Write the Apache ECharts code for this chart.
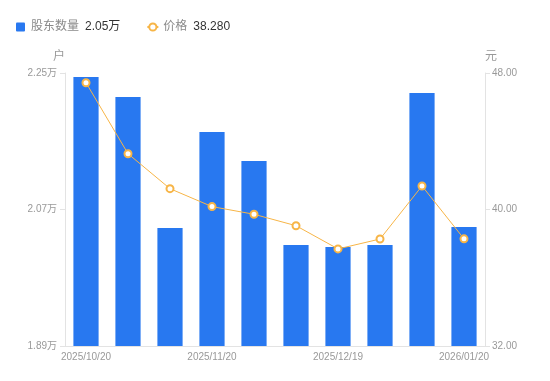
<!DOCTYPE html>
<html>
<head>
<meta charset="utf-8">
<script src="https://cdn.jsdelivr.net/npm/echarts@6/dist/echarts.min.js"></script>
<style>html,body{margin:0;padding:0;background:#fff}#c{width:550px;height:381px}</style>
</head>
<body>
<div id="c"></div>
<script>
var categories = ['2025/10/20','2025/10/31','2025/11/10','2025/11/20','2025/11/28','2025/12/10','2025/12/19','2025/12/31','2026/01/09','2026/01/20'];
var holders = [22447, 22183, 20456, 21722, 21339, 20231, 20205, 20231, 22236, 20469];
var prices = [47.43, 43.27, 41.22, 40.17, 39.72, 39.05, 37.69, 38.27, 41.38, 38.28];
var leftTicks = [18900, 20700, 22500];
var rightMin = 32, rightMax = 48, rightInterval = 8;

var FONT = '"Liberation Sans", "Noto Sans CJK SC", sans-serif';
var chart = echarts.init(document.getElementById('c'));
var lastHolder = (holders[holders.length-1]/10000).toFixed(2) + '万';
var lastPrice = prices[prices.length-1].toFixed(3);

chart.setOption({
  animation: false,
  textStyle: {fontFamily: FONT},
  legend: {
    left: 11, top: 16,
    itemWidth: 11, itemHeight: 9, itemGap: 26,
    data: [
      {name: '股东数量', icon: 'path://M1,0h7a1,1 0 0 1 1,1v7a1,1 0 0 1 -1,1h-7a1,1 0 0 1 -1,-1v-7a1,1 0 0 1 1,-1z'},
      {name: '价格'}
    ],
    formatter: function (n) {
      return '{n|' + n + '}{v|' + (n === '股东数量' ? lastHolder : lastPrice) + '}';
    },
    textStyle: {
      fontFamily: FONT,
      rich: {
        n: {color: '#8a8a8a', fontSize: 12, fontFamily: FONT},
        v: {color: '#333', fontSize: 12, fontFamily: FONT, padding: [0, 0, 0, 6]}
      }
    }
  },
  grid: {left: 65, right: 65, top: 73, bottom: 35},
  xAxis: {
    type: 'category',
    data: categories,
    axisLine: {lineStyle: {color: '#e3e3e3'}},
    axisTick: {show: false},
    axisLabel: {interval: 2, color: '#999', fontSize: 10, margin: 6, fontFamily: FONT}
  },
  yAxis: [
    {
      type: 'value',
      name: '户',
      nameGap: 10,
      nameTextStyle: {color: '#999', fontSize: 12, align: 'right', fontFamily: FONT},
      min: leftTicks[0], max: leftTicks[leftTicks.length-1],
      axisLine: {show: true, lineStyle: {color: '#e3e3e3'}},
      axisTick: {show: true, length: 5, customValues: leftTicks, lineStyle: {color: '#e3e3e3'}},
      axisLabel: {
        customValues: leftTicks,
        color: '#999', fontSize: 10, margin: 8, fontFamily: FONT,
        formatter: function (v) { return (v/10000).toFixed(2) + '万'; }
      },
      splitLine: {show: false}
    },
    {
      type: 'value',
      name: '元',
      nameGap: 10,
      nameTextStyle: {color: '#999', fontSize: 12, align: 'left', fontFamily: FONT},
      min: rightMin, max: rightMax, interval: rightInterval,
      axisLine: {show: true, lineStyle: {color: '#e3e3e3'}},
      axisTick: {show: true, length: 5, lineStyle: {color: '#e3e3e3'}},
      axisLabel: {
        color: '#999', fontSize: 10, margin: 7, fontFamily: FONT,
        formatter: function (v) { return v.toFixed(2); }
      },
      splitLine: {show: false}
    }
  ],
  series: [
    {
      name: '股东数量', type: 'bar', yAxisIndex: 0,
      data: holders, barWidth: '60%',
      itemStyle: {color: '#2878F0'}
    },
    {
      name: '价格', type: 'line', yAxisIndex: 1,
      data: prices,
      symbol: 'emptyCircle', symbolSize: 7,
      lineStyle: {color: '#F7B547', width: 1},
      itemStyle: {color: '#F7B547', borderWidth: 2}
    }
  ]
});
</script>
</body>
</html>
